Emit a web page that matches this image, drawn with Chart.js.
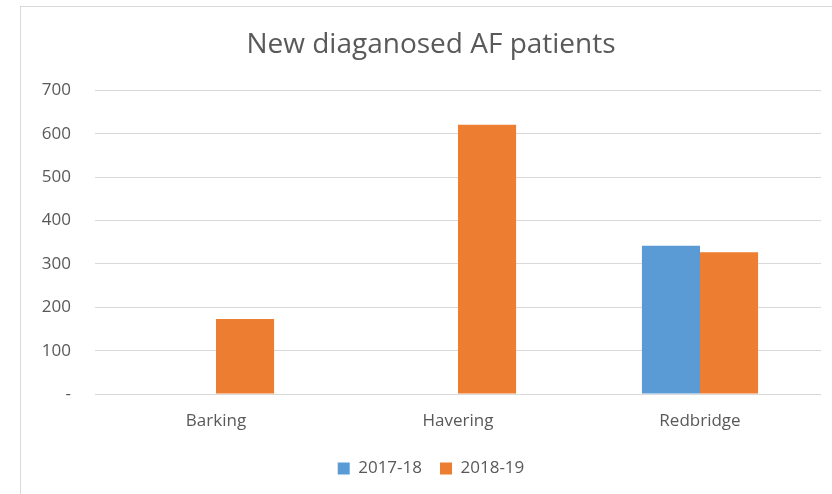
<!DOCTYPE html>
<html>
<head>
<meta charset="utf-8">
<script src="https://cdn.jsdelivr.net/npm/chart.js@4.4.1/dist/chart.umd.min.js"></script>
<style>
  html, body { margin: 0; padding: 0; background: #fff; overflow: hidden; }
  #frame {
    position: absolute; left: 20px; top: 6px;
    width: 830px; height: 500px;
    border-left: 1px solid #d9d9d9; border-top: 1px solid #d9d9d9;
  }
  #wrap { position: absolute; left: 0; top: 0; width: 820px; height: 487px; }
</style>
</head>
<body>
<div id="frame">
  <div id="wrap"><canvas id="afChart"></canvas></div>
</div>
<script>
const categories = ["Barking", "Havering", "Redbridge"];
const series2017 = [0, 0, 342];
const series2018 = [173, 621, 327];
const seriesLabels = ["2017-18", "2018-19"];
const yTicks = [0, 100, 200, 300, 400, 500, 600, 700];

const textColor = "#595959";
const fontFamily = "'Open Sans', 'Liberation Sans', sans-serif";

const ctx = document.getElementById("afChart").getContext("2d");

new Chart(ctx, {
  type: "bar",
  data: {
    labels: categories,
    datasets: [
      { label: seriesLabels[0], data: series2017, backgroundColor: "#5b9bd5", borderWidth: 0 },
      { label: seriesLabels[1], data: series2018, backgroundColor: "#ed7d31", borderWidth: 0 }
    ]
  },
  options: {
    responsive: true,
    maintainAspectRatio: false,
    animation: false,
    categoryPercentage: 0.48,
    barPercentage: 1.0,
    layout: { padding: { left: 0, right: 0, top: 0, bottom: 7 } },
    plugins: {
      title: {
        display: true,
        text: "New diaganosed AF patients",
        color: textColor,
        font: { family: fontFamily, size: 28, weight: "normal" },
        padding: { top: 21, bottom: 29 }
      },
      legend: {
        position: "bottom",
        labels: {
          color: textColor,
          font: { family: fontFamily, size: 17 },
          boxWidth: 12,
          boxHeight: 12,
          padding: 18
        }
      },
      tooltip: { enabled: false }
    },
    scales: {
      x: {
        grid: { display: false },
        border: { display: false },
        ticks: { color: textColor, font: { family: fontFamily, size: 17 }, padding: 9 },
        afterFit(s) { s.height = 48; }
      },
      y: {
        min: 0,
        max: 700,
        afterBuildTicks(s) { s.ticks = yTicks.map(v => ({ value: v })); },
        grid: { color: "#d9d9d9", drawTicks: false },
        border: { display: false },
        ticks: {
          color: textColor,
          font: { family: fontFamily, size: 17 },
          padding: 24,
          callback: v => v === 0 ? "-" : v
        },
        afterFit(s) { s.width = 74; }
      },
      yr: {
        type: "linear",
        position: "right",
        display: true,
        grid: { display: false },
        border: { display: false },
        ticks: { display: false },
        afterFit(s) { s.width = 20; }
      }
    }
  }
});
</script>
</body>
</html>
